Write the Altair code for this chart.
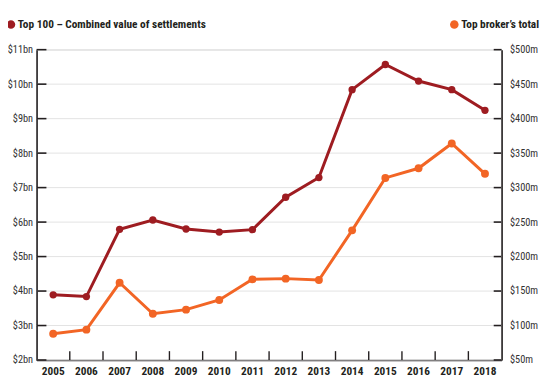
import altair as alt
import pandas as pd

years = ["2005", "2006", "2007", "2008", "2009", "2010", "2011",
         "2012", "2013", "2014", "2015", "2016", "2017", "2018"]
top100_bn = [3.89, 3.84, 5.79, 6.06, 5.80, 5.71, 5.78, 6.72, 7.29, 9.84, 10.57, 10.09, 9.84, 9.24]
broker_m = [88, 94, 162, 117, 123, 137, 167, 168, 166, 238, 314, 328, 364, 320]
bn_ticks = [2, 3, 4, 5, 6, 7, 8, 9, 10, 11]
m_ticks = [50, 100, 150, 200, 250, 300, 350, 400, 450, 500]
legend_left = "Top 100 – Combined value of settlements"
legend_right = "Top broker’s total"

DARK = "#9e1c21"
ORANGE = "#f26525"
AXIS = "#231f20"
FONT = "Roboto Condensed, Liberation Sans Narrow, Arial Narrow, Roboto, sans-serif"
W, H = 472, 315

df = pd.DataFrame({"year": years, "top100": top100_bn, "broker": broker_m})
bn_df = pd.DataFrame({"v": bn_ticks})
m_df = pd.DataFrame({"v": m_ticks})
yr_df = pd.DataFrame({"year": years[1:]})

xscale = alt.Scale(type="band", paddingInner=0, paddingOuter=0, domain=years)
xaxis = alt.Axis(title=None, labelAngle=0, ticks=False, domain=True, domainColor=AXIS,
                 domainWidth=1.6, labelFont=FONT, labelFontSize=11.5, labelFontWeight="bold",
                 labelColor="#231f20", labelPadding=6, grid=False)
lscale = alt.Scale(domain=[2, 11], nice=False, zero=False)
rscale = alt.Scale(domain=[50, 500], nice=False, zero=False)

laxis = alt.Axis(title=None, orient="left", values=bn_ticks, ticks=False, domain=True,
                 domainColor=AXIS, domainWidth=1.6, labelFont=FONT, labelFontSize=10.5,
                 labelColor="#333333", labelPadding=4, grid=False, labelOverlap=False,
                 labelExpr="'$' + datum.value + 'bn'")
raxis = alt.Axis(title=None, orient="right", values=m_ticks, ticks=False, domain=True,
                 domainColor=AXIS, domainWidth=1.6, labelFont=FONT, labelFontSize=10.5,
                 labelColor="#333333", labelPadding=8, grid=False, labelOverlap=False,
                 labelExpr="'$' + datum.value + 'm'")

base = alt.Chart(df)
xn = alt.X("year:N", scale=xscale, axis=xaxis)

grid = alt.Chart(bn_df).mark_rule(color="#e3e3e3", strokeWidth=1).encode(
    y=alt.Y("v:Q", scale=lscale, axis=None), x=alt.value(0), x2=alt.value(W))
l_axis_layer = alt.Chart(bn_df).mark_rule(opacity=0).encode(
    y=alt.Y("v:Q", scale=lscale, axis=laxis))
r_axis_layer = alt.Chart(m_df).mark_rule(opacity=0).encode(
    y=alt.Y("v:Q", scale=rscale, axis=raxis))
l_line = base.mark_line(color=DARK, strokeWidth=3).encode(
    x=xn, y=alt.Y("top100:Q", scale=lscale, axis=None))
l_pts = base.mark_circle(color=DARK, size=55, opacity=1).encode(
    x=xn, y=alt.Y("top100:Q", scale=lscale, axis=None))
l_ticks = alt.Chart(bn_df).mark_rule(color=AXIS, strokeWidth=1.6).encode(
    y=alt.Y("v:Q", scale=lscale, axis=None), x=alt.value(0), x2=alt.value(10))
x_ticks = alt.Chart(yr_df).mark_rule(color=AXIS, strokeWidth=1.4).encode(
    x=alt.X("year:N", scale=xscale, bandPosition=0, axis=xaxis),
    y=alt.value(H - 9), y2=alt.value(H))
r_line = base.mark_line(color=ORANGE, strokeWidth=3).encode(
    x=xn, y=alt.Y("broker:Q", scale=rscale, axis=None))
r_pts = base.mark_circle(color=ORANGE, size=64, opacity=1).encode(
    x=xn, y=alt.Y("broker:Q", scale=rscale, axis=None))
r_ticks = alt.Chart(m_df).mark_rule(color=AXIS, strokeWidth=1.6).encode(
    y=alt.Y("v:Q", scale=rscale, axis=None), x=alt.value(W - 8), x2=alt.value(W))

leg_df = pd.DataFrame({"label": [legend_left]})
leg_df2 = pd.DataFrame({"label": [legend_right]})
leg_l_dot = alt.Chart(leg_df).mark_point(color=DARK, filled=True, shape="circle",
                                          size=75, opacity=1).encode(
    x=alt.value(-26), y=alt.value(-25.5))
leg_l_txt = alt.Chart(leg_df).mark_text(align="left", baseline="middle", font=FONT,
                                        fontSize=11.5, fontWeight="bold", color="#231f20").encode(
    x=alt.value(-19), y=alt.value(-25), text="label:N")
leg_r_dot = alt.Chart(leg_df2).mark_point(color=ORANGE, filled=True, shape="circle",
                                           size=75, opacity=1).encode(
    x=alt.value(424), y=alt.value(-25.5))
leg_r_txt = alt.Chart(leg_df2).mark_text(align="right", baseline="middle", font=FONT,
                                         fontSize=11.5, fontWeight="bold", color="#231f20").encode(
    x=alt.value(510), y=alt.value(-25), text="label:N")

chart = alt.layer(
    grid, l_axis_layer, r_axis_layer, l_line, l_ticks, x_ticks, l_pts,
    r_line, r_ticks, r_pts, leg_l_dot, leg_l_txt, leg_r_dot, leg_r_txt
).resolve_scale(y="independent").properties(
    width=W, height=H,
    autosize=alt.AutoSizeParams(type="none"),
    padding={"left": 29, "top": 39.5, "right": 40, "bottom": 18},
).configure_view(stroke=None).configure(background="white")

chart.save("out.html", embed_options={"renderer": "svg", "actions": False})
